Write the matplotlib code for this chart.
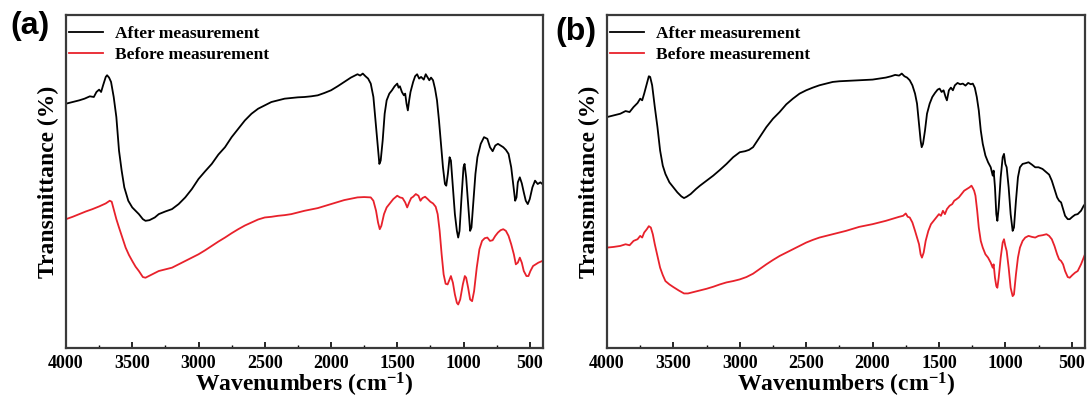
import matplotlib.pyplot as plt
from matplotlib.ticker import MultipleLocator

# ---- panel (a) ----
wn_a_after = [4000, 3950, 3900, 3860, 3820, 3790, 3770, 3750, 3735, 3720, 3700, 3690, 3675, 3660, 3640,
              3620, 3600, 3580, 3560, 3530, 3500, 3450, 3420, 3400, 3370, 3330, 3300, 3250, 3200, 3150,
              3100, 3050, 3000, 2950, 2900, 2850, 2800, 2750, 2700, 2650, 2600, 2550, 2500, 2450, 2400,
              2350, 2300, 2250, 2200, 2150, 2100, 2050, 2000, 1950, 1900, 1850, 1800, 1780, 1760, 1740,
              1720, 1700, 1680, 1660, 1645, 1635, 1625, 1610, 1595, 1580, 1560, 1540, 1520, 1500, 1490,
              1480, 1465, 1450, 1440, 1430, 1420, 1410, 1400, 1380, 1365, 1350, 1335, 1320, 1300, 1285,
              1270, 1258, 1245, 1230, 1215, 1200, 1185, 1170, 1155, 1140, 1130, 1118, 1105, 1095, 1080,
              1065, 1050, 1040, 1030, 1015, 1000, 992, 980, 965, 950, 940, 925, 910, 895, 870,
              845, 820, 800, 780, 760, 740, 720, 700, 680, 660, 640, 625, 610, 600, 590,
              575, 560, 545, 530, 515, 500, 480, 460, 440, 420, 405]
t_a_after = [73.0, 73.5, 74.0, 74.5, 75.2, 75.0, 76.5, 77.2, 76.5, 78.5, 81.0, 81.5, 80.8, 79.5, 75.0,
             69.0, 59.0, 53.0, 48.0, 44.0, 42.0, 40.0, 38.5, 38.0, 38.2, 39.0, 40.0, 40.8, 41.5, 43.0,
             45.0, 47.5, 50.5, 52.8, 55.0, 57.8, 60.0, 63.0, 65.5, 68.0, 70.0, 71.5, 72.5, 73.5, 74.0,
             74.5, 74.7, 74.9, 75.0, 75.2, 75.5, 76.2, 77.0, 78.2, 79.5, 80.8, 81.8, 81.4, 82.0, 81.2,
             80.5, 79.0, 75.0, 66.0, 59.0, 55.0, 56.0, 62.0, 70.0, 74.0, 76.0, 77.0, 78.2, 79.0, 77.8,
             78.2, 76.5, 75.5, 76.0, 73.0, 71.0, 74.0, 76.5, 79.5, 81.2, 81.8, 80.5, 81.0, 80.2, 81.8,
             80.8, 80.0, 80.8, 80.0, 77.5, 74.0, 68.0, 61.0, 54.0, 49.0, 48.5, 52.0, 57.0, 56.0, 48.0,
             40.0, 35.0, 33.0, 35.0, 45.0, 54.0, 55.0, 51.0, 43.0, 35.0, 36.0, 44.0, 52.0, 57.0, 61.0,
             63.0, 62.5, 60.0, 58.8, 60.5, 61.0, 60.5, 60.0, 59.2, 58.0, 54.0, 49.0, 44.0, 45.0, 49.5,
             51.0, 49.2, 46.5, 44.0, 43.0, 44.5, 48.0, 50.0, 49.0, 49.5, 49.0]

wn_a_before = [4000, 3950, 3900, 3850, 3800, 3750, 3700, 3670, 3655, 3640, 3620, 3600, 3575, 3550, 3525,
               3500, 3475, 3450, 3420, 3400, 3380, 3350, 3300, 3250, 3200, 3150, 3100, 3050, 3000, 2950,
               2900, 2850, 2800, 2750, 2700, 2650, 2600, 2550, 2500, 2450, 2400, 2350, 2300, 2250, 2200,
               2150, 2100, 2050, 2000, 1950, 1900, 1850, 1800, 1750, 1700, 1680, 1660, 1645, 1632, 1620,
               1600, 1580, 1560, 1530, 1500, 1480, 1460, 1440, 1425, 1410, 1395, 1380, 1360, 1340, 1325,
               1310, 1290, 1270, 1250, 1230, 1210, 1195, 1180, 1165, 1150, 1135, 1120, 1105, 1095, 1080,
               1065, 1050, 1040, 1025, 1005, 990, 980, 965, 950, 935, 920, 900, 880, 860, 840,
               820, 800, 780, 760, 740, 720, 700, 680, 660, 640, 620, 605, 590, 575, 560,
               545, 525, 510, 495, 475, 455, 435, 405]
t_a_before = [38.5, 39.2, 40.0, 40.8, 41.5, 42.3, 43.2, 44.0, 43.7, 41.5, 38.5, 36.0, 33.0, 30.0, 27.8,
              26.0, 24.3, 23.0, 21.2, 21.0, 21.4, 22.0, 23.0, 23.5, 24.0, 25.0, 26.0, 27.0, 28.0, 29.2,
              30.5, 31.8, 33.0, 34.3, 35.5, 36.6, 37.5, 38.4, 39.0, 39.2, 39.5, 39.7, 40.0, 40.5, 41.0,
              41.4, 41.8, 42.4, 43.0, 43.6, 44.2, 44.6, 45.0, 45.1, 45.0, 44.0, 41.0, 37.5, 35.5, 36.5,
              40.0, 42.0, 43.0, 44.5, 45.5, 45.0, 44.8, 43.5, 42.0, 43.5, 44.8, 45.2, 46.0, 45.5, 44.0,
              44.8, 45.2, 44.5, 43.7, 43.2, 42.2, 40.0, 35.0, 28.0, 22.0, 19.2, 19.0, 20.5, 21.5, 19.5,
              16.0, 13.5, 13.0, 14.5, 19.0, 21.5, 21.0, 18.0, 14.5, 14.0, 17.0, 24.0, 29.5, 32.0, 32.8,
              33.0, 32.0, 32.2, 33.5, 34.5, 35.2, 35.5, 35.0, 33.5, 31.0, 28.0, 25.0, 25.5, 27.0, 25.5,
              23.0, 21.5, 21.5, 23.0, 24.5, 25.0, 25.5, 26.0]

# ---- panel (b) ----
wn_b_after = [4000, 3950, 3900, 3860, 3830, 3800, 3770, 3750, 3735, 3720, 3700, 3685, 3675, 3660, 3640,
              3620, 3600, 3580, 3560, 3530, 3500, 3470, 3440, 3420, 3400, 3370, 3330, 3300, 3250, 3200,
              3150, 3100, 3050, 3000, 2960, 2930, 2900, 2850, 2800, 2750, 2700, 2650, 2600, 2550, 2500,
              2450, 2400, 2350, 2300, 2250, 2200, 2150, 2100, 2050, 2000, 1950, 1900, 1860, 1830, 1800,
              1780, 1760, 1740, 1720, 1700, 1680, 1665, 1650, 1638, 1630, 1620, 1605, 1590, 1570, 1550,
              1530, 1510, 1495, 1480, 1465, 1450, 1440, 1425, 1410, 1395, 1380, 1360, 1340, 1320, 1300,
              1280, 1260, 1245, 1230, 1215, 1200, 1185, 1170, 1150, 1130, 1110, 1095, 1088, 1078, 1068,
              1060, 1050, 1035, 1020, 1010, 1000, 990, 975, 960, 945, 935, 920, 905, 890, 870,
              850, 825, 800, 775, 750, 720, 690, 670, 650, 630, 610, 595, 580, 565, 550,
              530, 515, 495, 475, 455, 430, 410, 400]
t_b_after = [69.0, 69.5, 70.0, 70.8, 70.5, 72.0, 73.2, 74.5, 74.0, 76.0, 79.0, 81.2, 81.0, 78.5, 72.0,
             66.0, 59.0, 54.5, 52.0, 49.5, 48.0, 46.5, 45.3, 44.8, 45.2, 46.0, 47.5, 48.5, 50.0, 51.5,
             53.2, 55.0, 57.0, 58.5, 58.8, 59.2, 60.0, 63.0, 66.0, 68.5, 70.5, 72.8, 74.5, 76.0, 77.0,
             77.8, 78.5, 79.0, 79.5, 79.7, 79.8, 79.9, 80.0, 80.1, 80.2, 80.5, 80.8, 81.2, 81.6, 81.4,
             82.0, 81.2, 80.8, 80.0, 78.5, 76.0, 73.0, 67.0, 62.0, 60.0, 61.0, 65.0, 70.0, 73.0, 75.0,
             76.2, 77.2, 77.5, 76.5, 77.0, 75.0, 74.0, 77.0, 77.8, 77.0, 78.5, 79.2, 78.8, 79.0, 78.4,
             79.2, 78.8, 79.0, 77.8, 75.0, 71.0, 65.0, 61.0, 57.5, 55.5, 54.0, 51.5, 53.0, 48.0, 40.0,
             38.0, 42.0, 51.0, 57.0, 58.0, 55.0, 54.0, 48.0, 40.0, 35.0, 36.0, 44.0, 51.0, 54.0, 55.0,
             55.2, 55.5, 54.8, 54.0, 54.0, 53.5, 52.5, 51.8, 50.0, 47.5, 45.0, 44.0, 43.5, 41.5, 39.5,
             38.5, 38.5, 39.2, 39.8, 40.0, 41.0, 42.5, 43.0]

wn_b_before = [4000, 3950, 3900, 3860, 3830, 3800, 3770, 3750, 3735, 3720, 3700, 3685, 3670, 3655, 3640,
               3620, 3600, 3580, 3560, 3530, 3500, 3460, 3420, 3390, 3350, 3300, 3250, 3200, 3150, 3100,
               3050, 3000, 2950, 2900, 2850, 2800, 2750, 2700, 2650, 2600, 2550, 2500, 2450, 2400, 2350,
               2300, 2250, 2200, 2150, 2100, 2050, 2000, 1950, 1900, 1850, 1800, 1770, 1750, 1735, 1720,
               1700, 1680, 1665, 1650, 1638, 1628, 1615, 1600, 1580, 1560, 1540, 1520, 1500, 1485, 1470,
               1455, 1440, 1420, 1400, 1385, 1370, 1350, 1330, 1310, 1290, 1270, 1255, 1245, 1235, 1225,
               1212, 1200, 1185, 1170, 1150, 1130, 1110, 1095, 1088, 1078, 1068, 1060, 1050, 1035, 1020,
               1010, 1000, 990, 975, 960, 945, 935, 920, 905, 890, 870, 850, 825, 800, 775,
               750, 720, 690, 670, 650, 630, 610, 595, 580, 565, 550, 530, 515, 495, 475,
               455, 430, 410, 400]
t_b_before = [30.0, 30.2, 30.5, 31.0, 30.7, 32.0, 32.5, 33.5, 33.0, 34.5, 35.5, 36.4, 36.0, 34.0, 31.0,
              27.5, 24.0, 21.8, 20.0, 19.0, 18.2, 17.2, 16.3, 16.3, 16.7, 17.2, 17.7, 18.3, 19.0, 19.6,
              20.0, 20.5, 21.2, 22.2, 23.6, 25.0, 26.3, 27.5, 28.5, 29.5, 30.5, 31.5, 32.3, 33.0, 33.5,
              34.0, 34.5, 35.0, 35.6, 36.2, 36.6, 37.0, 37.5, 38.0, 38.6, 39.2, 39.5, 40.2, 39.2, 39.0,
              37.5, 35.0, 33.0, 31.0, 28.0, 27.0, 28.5, 32.0, 35.0, 37.0, 38.0, 39.0, 40.0, 39.5, 41.0,
              40.0, 41.5, 42.5, 43.0, 44.0, 44.4, 45.0, 46.0, 47.0, 47.5, 48.0, 48.5, 47.8, 47.0, 45.5,
              41.0, 36.0, 32.0, 30.0, 28.0, 27.0, 25.5, 24.0, 25.0, 21.0, 18.5, 18.0, 21.0, 27.0, 31.5,
              32.5, 30.5, 29.0, 24.0, 18.0, 15.5, 16.0, 22.0, 27.0, 30.0, 32.0, 33.0, 33.5, 33.2, 33.0,
              33.5, 33.7, 34.0, 33.5, 32.5, 30.5, 28.0, 26.5, 26.0, 25.0, 23.0, 21.2, 21.0, 21.8, 22.5,
              23.0, 25.0, 27.0, 28.0]

panel_labels = ['(a)', '(b)']
series_labels = ['After measurement', 'Before measurement']
xticks = [4000, 3500, 3000, 2500, 2000, 1500, 1000, 500]

serif = 'Liberation Serif'
plt.rcParams['mathtext.fontset'] = 'custom'
plt.rcParams['mathtext.rm'] = 'Liberation Serif:bold'
plt.rcParams['mathtext.bf'] = 'Liberation Serif:bold'
plt.rcParams['mathtext.default'] = 'bf'

fig = plt.figure(figsize=(10.88, 4.0), dpi=100)
ax_a = fig.add_axes([66 / 1088, 52 / 400, 477 / 1088, 333 / 400])
ax_b = fig.add_axes([607 / 1088, 52 / 400, 478 / 1088, 333 / 400])

panels = [
    (ax_a, wn_a_after, t_a_after, wn_a_before, t_a_before),
    (ax_b, wn_b_after, t_b_after, wn_b_before, t_b_before),
]

for ax, wa, ta, wb, tb in panels:
    ax.plot(wa, ta, color='black', lw=1.3, label=series_labels[0])
    ax.plot(wb, tb, color='#e8212b', lw=1.3, label=series_labels[1])
    ax.set_xlim(4000, 400)
    ax.set_ylim(0, 99.5)
    ax.set_yticks([])
    ax.set_xticks(xticks)
    ax.xaxis.set_minor_locator(MultipleLocator(250))
    ax.tick_params(axis='x', which='major', direction='in', length=4, width=1.2, pad=5)
    ax.tick_params(axis='x', which='minor', direction='in', length=2.5, width=1)
    for lbl in ax.get_xticklabels():
        lbl.set_fontfamily(serif)
        lbl.set_fontweight('bold')
        lbl.set_fontsize(13)
    for sp in ax.spines.values():
        sp.set_linewidth(1.6)
        sp.set_color('#3a3a3a')
    ax.set_xlabel('Wavenumbers (cm$^{-1}$)', fontfamily=serif, fontweight='bold',
                  fontsize=17, labelpad=-1)
    ax.set_ylabel('Transmittance (%)', fontfamily=serif, fontweight='bold', fontsize=17, labelpad=5)
    ax.legend(loc='upper left', bbox_to_anchor=(0.0, 0.975), frameon=False,
              prop={'family': serif, 'weight': 'bold', 'size': 12.5},
              handlelength=2.0, handletextpad=0.7, labelspacing=0.3,
              borderaxespad=0.0, borderpad=0.15)

fig.text(10 / 1088, 1 - 26 / 400, panel_labels[0], fontfamily='Liberation Sans', fontweight='bold',
         fontsize=23, ha='left', va='center')
fig.text(555 / 1088, 1 - 32 / 400, panel_labels[1], fontfamily='Liberation Sans', fontweight='bold',
         fontsize=23, ha='left', va='center')

fig.savefig('out.png', dpi=100)
